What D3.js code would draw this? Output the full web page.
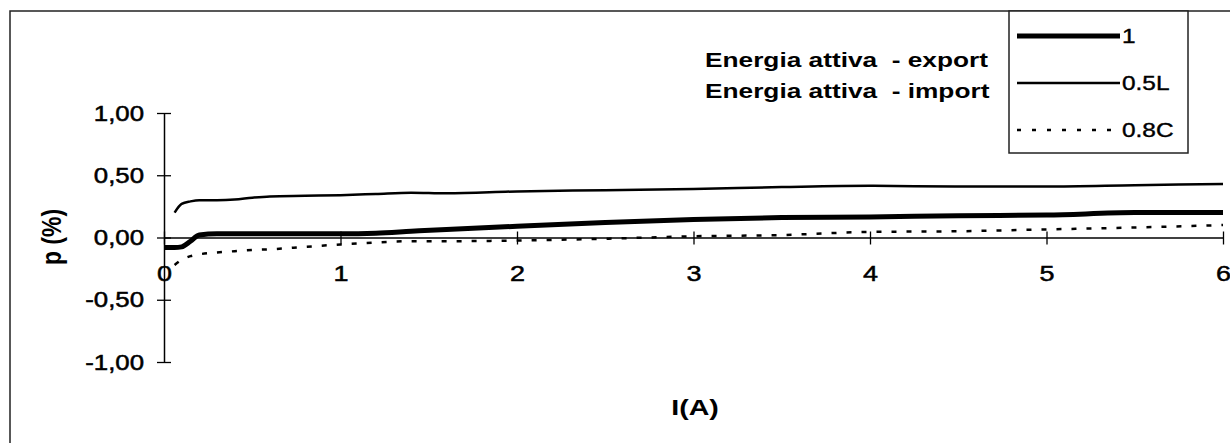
<!DOCTYPE html>
<html>
<head>
<meta charset="utf-8">
<script src="https://cdn.jsdelivr.net/npm/d3@7"></script>
<style>
  body { margin: 0; background: #fff; }
  svg { display: block; font-family: "Liberation Sans", Arial, sans-serif; }
  text { white-space: pre; }
</style>
</head>
<body>
<div id="chart"></div>
<script>
// current I(A) sampled along the x axis
const current = [0, 0.06, 0.1, 0.15, 0.2, 0.3, 0.4, 0.5, 0.6, 0.8, 1, 1.2, 1.4, 1.6, 2, 2.5, 3, 3.5, 4, 4.5, 5, 5.5, 6];

// error p (%) for each power factor
const pf1 = [-0.08, -0.08, -0.075, -0.03, 0.02, 0.03, 0.03, 0.03, 0.03, 0.03, 0.03, 0.035, 0.05, 0.065, 0.09, 0.12, 0.145, 0.16, 0.165, 0.175, 0.18, 0.2, 0.2];
const pf05L = [null, 0.2, 0.27, 0.29, 0.3, 0.3, 0.305, 0.32, 0.33, 0.335, 0.34, 0.35, 0.36, 0.355, 0.37, 0.38, 0.39, 0.405, 0.415, 0.41, 0.41, 0.42, 0.43];
const pf08C = [null, -0.22, -0.18, -0.15, -0.135, -0.12, -0.11, -0.1, -0.095, -0.075, -0.056, -0.04, -0.03, -0.03, -0.024, -0.01, 0.01, 0.02, 0.045, 0.05, 0.065, 0.08, 0.1];

const seriesNames = ["1", "0.5L", "0.8C"];
const yTicks = [-1, -0.5, 0, 0.5, 1];
const xTicks = [0, 1, 2, 3, 4, 5, 6];
const titleLines = ["Energia attiva  - export", "Energia attiva  - import"];

const width = 1230, height = 443;

const svg = d3.select("#chart").append("svg")
    .attr("width", width)
    .attr("height", height);

const x = d3.scaleLinear().domain([0, 6]).range([164, 1223]);
const y = d3.scaleLinear().domain([-1, 1]).range([362, 113]);

// outer frame (top and left only)
svg.append("path")
    .attr("d", "M10,443 L10,11 L1230,11")
    .attr("fill", "none")
    .attr("stroke", "#222")
    .attr("stroke-width", 1.5);

// y axis
const yAxis = svg.append("g")
    .attr("transform", `translate(${x(0)},0)`)
    .call(d3.axisLeft(y).tickValues(yTicks).tickSizeOuter(0)
        .tickFormat(d => d3.format(".2f")(d).replace(".", ",").replace("\u2212", "-")));
yAxis.select(".domain").attr("stroke", "#000").attr("stroke-width", 1.5);
yAxis.selectAll(".tick line").attr("x1", -7).attr("x2", 7).attr("stroke-width", 1.3);
yAxis.selectAll(".tick text")
    .attr("x", null).attr("dy", null).attr("y", null)
    .attr("text-anchor", "end")
    .attr("transform", "translate(-20,7) scale(1.2,1)")
    .attr("font-size", 21.5)
    .attr("fill", "#000")
    .attr("stroke", "#000")
    .attr("stroke-width", 0.5);

// x axis sitting on p = 0
const xAxis = svg.append("g")
    .attr("transform", `translate(0,${y(0)})`)
    .call(d3.axisBottom(x).tickValues(xTicks).tickSizeOuter(0).tickFormat(d3.format("d")));
xAxis.select(".domain").attr("stroke", "#000").attr("stroke-width", 1.3);
xAxis.selectAll(".tick line").attr("y1", -6).attr("y2", 7).attr("stroke-width", 1.3);
xAxis.selectAll(".tick text")
    .attr("y", null).attr("dy", null)
    .attr("text-anchor", "middle")
    .attr("transform", "translate(0,43) scale(1.2,1)")
    .attr("font-size", 22.5)
    .attr("fill", "#000")
    .attr("stroke", "#000")
    .attr("stroke-width", 0.5);

svg.selectAll("g").attr("font-family", null);

// series lines
const styles = [
    { w: 5, dash: null },
    { w: 2.5, dash: null },
    { w: 2.5, dash: "5,10" }
];
const seriesData = [pf1, pf05L, pf08C];

const line = d3.line()
    .defined(d => d[1] !== null)
    .x(d => x(d[0]))
    .y(d => y(d[1]))
    .curve(d3.curveMonotoneX);

seriesData.forEach((vals, i) => {
    svg.append("path")
        .datum(current.map((c, j) => [c, vals[j]]))
        .attr("d", line)
        .attr("fill", "none")
        .attr("stroke", "#000")
        .attr("stroke-width", styles[i].w)
        .attr("stroke-dasharray", styles[i].dash)
        .attr("stroke-linejoin", "round");
});

// axis titles
svg.append("text")
    .attr("transform", "translate(61,237) rotate(-90) scale(1,1.2)")
    .attr("text-anchor", "middle")
    .attr("font-size", 23)
    .attr("font-weight", "bold")
    .text("p (%)");

svg.append("text")
    .attr("transform", "translate(695,415) scale(1.3,1)")
    .attr("text-anchor", "middle")
    .attr("font-size", 22)
    .attr("font-weight", "bold")
    .text("I(A)");

// title lines
svg.selectAll(".title")
    .data(titleLines)
    .enter().append("text")
    .attr("class", "title")
    .attr("transform", (d, i) => `translate(705,${67 + i * 31}) scale(1.25,1)`)
    .attr("font-size", 21)
    .attr("font-weight", "bold")
    .text(d => d);

// legend
const legend = svg.append("g").attr("transform", "translate(1009,11)");
legend.append("rect")
    .attr("width", 179)
    .attr("height", 142)
    .attr("fill", "#fff")
    .attr("stroke", "#222")
    .attr("stroke-width", 1.5);

const legendY = d3.scalePoint().domain(seriesNames).range([25, 119]);

const items = legend.selectAll(".item")
    .data(seriesNames)
    .enter().append("g")
    .attr("transform", d => `translate(0,${legendY(d)})`);

items.append("line")
    .attr("x1", 8).attr("x2", 111)
    .attr("stroke", "#000")
    .attr("stroke-width", (d, i) => styles[i].w)
    .attr("stroke-dasharray", (d, i) => styles[i].dash ? "4,11" : null);

items.append("text")
    .attr("transform", "translate(113,7) scale(1.22,1)")
    .attr("font-size", 20)
    .attr("stroke", "#000")
    .attr("stroke-width", 0.4)
    .text(d => d);
</script>
</body>
</html>
